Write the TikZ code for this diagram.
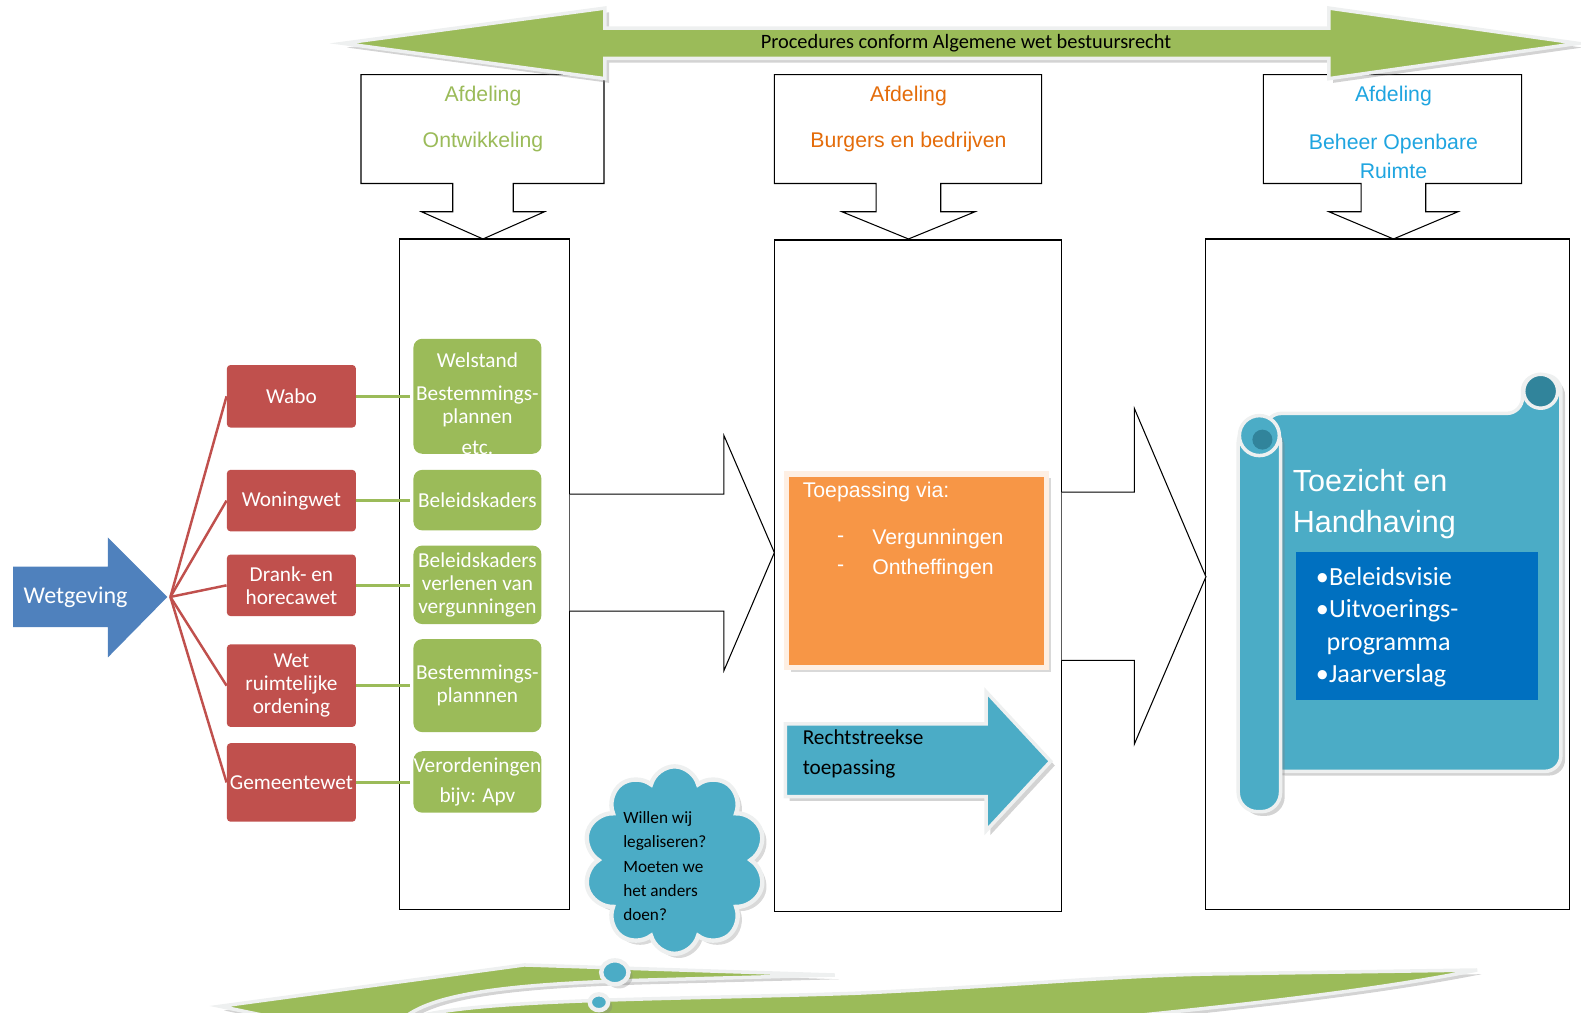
\documentclass[tikz,border=0pt]{standalone}
\usepackage{fontspec}
\setmainfont{Carlito}
\newfontfamily\arialfont{Liberation Sans}
\usetikzlibrary{positioning,shapes.symbols,shapes.callouts,shadows}

\definecolor{wgreen}{HTML}{9BBB59}
\definecolor{wred}{HTML}{C0504D}
\definecolor{wblue}{HTML}{4F81BD}
\definecolor{wcyan}{HTML}{4BACC6}
\definecolor{wteal}{HTML}{31849B}
\definecolor{worange}{HTML}{F79646}
\definecolor{wnavy}{HTML}{0070C0}
\definecolor{deptgreen}{HTML}{9BBB59}
\definecolor{deptorange}{HTML}{E46C0A}
\definecolor{deptblue}{HTML}{1FA5E0}
\definecolor{rim}{HTML}{EEF0F0}

\tikzset{
  lawbox/.style={fill=wred, rounded corners=2pt, minimum width=2.58cm, inner sep=0pt,
    text=white, align=center, font=\fontsize{12.1}{13.1}\selectfont},
  planbox/.style={fill=wgreen, rounded corners=5pt, minimum width=2.56cm, inner sep=0pt,
    text=white, align=center, font=\fontsize{12.1}{13.1}\selectfont},
  lawlink/.style={wred, line width=1.4pt},
  planlink/.style={wgreen, line width=2pt, shorten >=1.5pt},
  outline/.style={draw=black, line width=0.6pt},
  glossy/.style={draw=rim, line width=2pt, drop shadow={opacity=0.35}},
  depttext/.style={font=\arialfont\fontsize{12.1}{14}\selectfont},
}

\begin{document}
\begin{tikzpicture}[x=0.020166cm, y=-0.020166cm]
\useasboundingbox (0,0) rectangle (1568,1004);
\clip (0,0) rectangle (1568,1004);

% afdelingen
\draw[outline, fill=white] (358,74) -- (599,74) -- (599,182) -- (509,182) -- (509,210) -- (540,210)
  -- (479,237) -- (418,210) -- (449,210) -- (449,182) -- (358,182) -- cycle;
\draw[outline, fill=white] (768,74) -- (1033,74) -- (1033,182) -- (933,182) -- (933,210) -- (967,210)
  -- (901,237) -- (835,210) -- (869,210) -- (869,182) -- (768,182) -- cycle;
\draw[outline, fill=white] (1253,74) -- (1509,74) -- (1509,182) -- (1414,182) -- (1414,210) -- (1446,210)
  -- (1382,237) -- (1318,210) -- (1350,210) -- (1350,182) -- (1253,182) -- cycle;
\node[depttext, text=deptgreen] (ontw1) at (479,95) {Afdeling};
\node[depttext, text=deptgreen] (ontw2) at (479,141) {Ontwikkeling};
\node[depttext, text=deptorange] (burg1) at (901,95) {Afdeling};
\node[depttext, text=deptorange] (burg2) at (901,141) {Burgers en bedrijven};
\node[depttext, text=deptblue] (bor1) at (1382,95) {Afdeling};
\node[depttext, text=deptblue, align=center, font=\arialfont\fontsize{12.1}{16.6}\selectfont]
  (bor2) at (1382,155) {Beheer Openbare\\Ruimte};

% procedures
\fill[wgreen, glossy] (340,43) -- (600,8) -- (600,28) -- (1318,28) -- (1318,8) -- (1565,43)
  -- (1318,78) -- (1318,58) -- (600,58) -- (600,78) -- cycle;
\node[font=\fontsize{11.6}{13}\selectfont] (awb) at (958,43) {Procedures conform Algemene wet bestuursrecht};

% kolommen
\draw[outline] (396,237) rectangle (565,902);
\draw[outline] (768,238) rectangle (1053,904);
\draw[outline] (1196,237) rectangle (1557,902);
\draw[outline, fill=white] (565,490) -- (718,490) -- (718,432) -- (768,548) -- (718,665) -- (718,606) -- (565,606);
\draw[outline, fill=white] (1053,488) -- (1125,488) -- (1125,405) -- (1196,572) -- (1125,738) -- (1125,655) -- (1053,655);

% wetgeving
\fill[wblue] (13,562) -- (107,562) -- (107,533) -- (166,592) -- (107,652) -- (107,622) -- (13,622) -- cycle;
\node[text=white, font=\fontsize{13.7}{15}\selectfont] (wetgeving) at (75,592) {Wetgeving};
\coordinate (fanroot) at (169,592);

\node[lawbox, minimum height=1.25cm] (wabo) at (289,393) {Wabo};
\node[lawbox, minimum height=1.23cm] (woning) at (289,496.5) {Woningwet};
\node[lawbox, minimum height=1.23cm] (drank) at (289,580.5) {Drank- en\\horecawet};
\node[lawbox, minimum height=1.65cm] (wro) at (289,680) {Wet\\ruimtelijke\\ordening};
\node[lawbox, minimum height=1.57cm] (gemeente) at (289,776) {Gemeentewet};

\node[planbox, minimum height=2.3cm] (welstand) at (473.5,393) {};
\node[text=white, align=center, font=\fontsize{12.1}{13.1}\selectfont] (welstandtext) at (473.5,400)
  {Welstand\\[5.7pt]Bestemmings-\\plannen\\[4.6pt]etc.};
\node[planbox, minimum height=1.21cm] (kader) at (473.5,496) {Beleidskaders};
\node[planbox, minimum height=1.57cm] (verlenen) at (473.5,580) {Beleidskaders\\verlenen van\\vergunningen};
\node[planbox, minimum height=1.86cm] (bestemming) at (473.5,680) {Bestemmings-\\plannnen};
\node[planbox, minimum height=1.23cm, font=\fontsize{12.1}{17.1}\selectfont] (verordening) at (473.5,775.5)
  {Verordeningen\\bijv: Apv};

\foreach \law in {wabo,woning,drank,wro,gemeente}
  \draw[lawlink] (fanroot) -- (\law.west);
\foreach \law/\plan in {wabo/welstand,woning/kader,drank/verlenen,wro/bestemming,gemeente/verordening}
  \draw[planlink] (\law.east) -- (\law.east -| \plan.west);

% toepassing
\node[fill=worange, draw=white!85!worange, line width=3pt, drop shadow={opacity=0.3},
  minimum width=5.2cm, minimum height=3.87cm] (toepassing) at (909,566) {};
\node[anchor=west, text=white, font=\arialfont\fontsize{12.1}{14}\selectfont] (via) at (790,488) {Toepassing via:};
\node[anchor=west, text=white, font=\arialfont\fontsize{12.1}{16.6}\selectfont, align=left] (dash) at (824,549.5) {-\\-};
\node[anchor=west, text=white, font=\arialfont\fontsize{12.1}{16.6}\selectfont, align=left] (verg) at (859,549.5)
  {Vergunningen\\Ontheffingen};

\fill[wcyan, glossy] (779,718) -- (978,718) -- (978,686) -- (1042,755) -- (978,824) -- (978,790) -- (779,790) -- cycle;
\node[anchor=west, align=left, font=\fontsize{12.1}{17.1}\selectfont] (direct) at (790,748)
  {Rechtstreekse\\toepassing};

% onderste pijlen
\fill[wgreen, glossy] (218,998) -- (520,957) -- (828,967) -- (640,972) .. controls (500,976) and (420,986) .. (395,1015)
  -- (300,1015) -- cycle;
\fill[wgreen, glossy] (395,1015) .. controls (440,990) and (650,992) .. (850,985)
  .. controls (1000,978) and (1100,968) .. (1200,966) -- (1465,962)
  .. controls (1350,985) and (1200,1000) .. (1050,1015) -- cycle;

% wolk
\node[cloud callout, cloud puffs=10, cloud ignores aspect, fill=wcyan, draw=rim, line width=2.5pt,
  drop shadow={opacity=0.3}, minimum width=3.65cm, minimum height=3.75cm,
  callout pointer segments=2, callout absolute pointer={(594,994)}] (cloud) at (669,853) {};
\node[anchor=west, align=left, font=\fontsize{9.8}{13.7}\selectfont] (vraag) at (612,859)
  {Willen wij\\legaliseren?\\Moeten we\\het anders\\doen?};

% toezicht
\fill[wcyan, glossy, rounded corners=9pt] (1255,410) -- (1510,410) -- (1510,372) -- (1548,372)
  -- (1548,765) -- (1255,765) -- cycle;
\fill[wteal, draw=rim, line width=2pt] (1528,388) circle (0.34cm);
\fill[wcyan, glossy, rounded corners=11pt] (1228,420) rectangle (1270,805);
\fill[wcyan, draw=rim, line width=2pt] (1249,432) circle (0.4cm);
\fill[wteal] (1252,436) circle (0.2cm);
\node[anchor=west, align=left, text=white, font=\arialfont\fontsize{17.4}{23.4}\selectfont] (toezicht) at (1276,499.5)
  {Toezicht en\\Handhaving};
\node[fill=wnavy, minimum width=4.84cm, minimum height=2.96cm] (lijst) at (1405,620.5) {};
\node[anchor=west, align=left, text=white, font=\fontsize{14.9}{18.3}\selectfont] (items) at (1299,622)
  {•Beleidsvisie\\•Uitvoerings-\\\hspace*{6pt}programma\\•Jaarverslag};
\end{tikzpicture}
\end{document}
